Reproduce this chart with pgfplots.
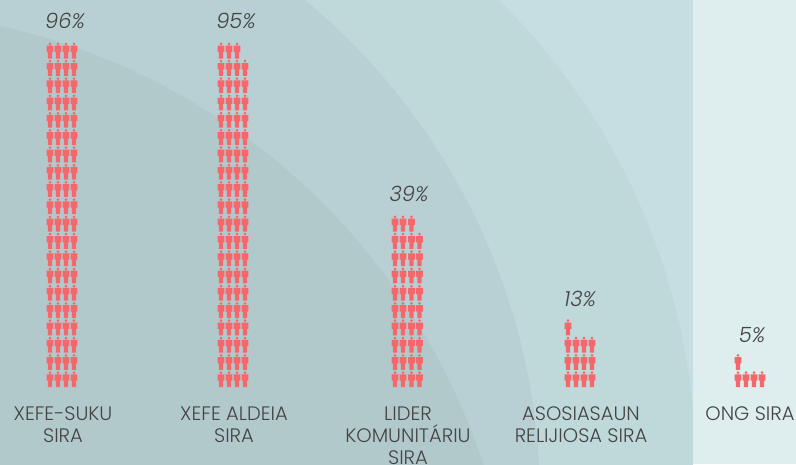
\documentclass[border=0pt]{standalone}
\usepackage{pgfplots}
\pgfplotsset{compat=1.18}
\usepackage{fontspec}
\setmainfont{Poppins}[UprightFont=* Light,ItalicFont=* Light Italic]
\definecolor{panel}{HTML}{DEEDED}
\definecolor{zoneC}{HTML}{C6DDE1}
\definecolor{zoneB}{HTML}{BFD8DA}
\definecolor{zoneA}{HTML}{B8D0D3}
\definecolor{zoneD}{HTML}{B2C9CC}
\definecolor{person}{HTML}{F4686C}
\definecolor{txt}{HTML}{444444}
\pgfdeclareplotmark{person}{%
  \pgfpathcircle{\pgfpoint{0pt}{6.6pt}}{1.5pt}%
  \pgfpathmoveto{\pgfpoint{-3.3pt}{4.8pt}}%
  \pgfpathlineto{\pgfpoint{3.3pt}{4.8pt}}%
  \pgfpathlineto{\pgfpoint{3.3pt}{-1.5pt}}%
  \pgfpathlineto{\pgfpoint{2.2pt}{-1.5pt}}%
  \pgfpathlineto{\pgfpoint{2.2pt}{-8pt}}%
  \pgfpathlineto{\pgfpoint{-2.2pt}{-8pt}}%
  \pgfpathlineto{\pgfpoint{-2.2pt}{-1.5pt}}%
  \pgfpathlineto{\pgfpoint{-3.3pt}{-1.5pt}}%
  \pgfpathclose
  \pgfusepathqfill}
\pgfplotsset{base/.style={width=796pt,height=464pt,scale only axis,hide axis,
  xmin=0,xmax=796,enlargelimits=false,clip=false}}
\begin{document}
\begin{tikzpicture}
\clip (0,0) rectangle (796pt,464pt);
% background in pixel coordinates, y measured from the bottom
\begin{axis}[base,ymin=0,ymax=464]
\fill[panel] (axis cs:0,0) rectangle (axis cs:796,464);
\fill[zoneC] (axis cs:0,0) rectangle (axis cs:693,464);
\begin{scope}
\clip (axis cs:0,0) rectangle (axis cs:693,464);
\fill[zoneB] (axis cs:31.4,-8.2) circle [radius=664.5pt];
\fill[zoneA] (axis cs:-110.6,-36.6) circle [radius=650.6pt];
\fill[zoneD] (axis cs:-142.5,-204.5) circle [radius=658pt];
\end{scope}
\end{axis}
% icons: x in pixels, y = row of the pictogram
\begin{axis}[base,ymin=-3.90,ymax=22.92]
\addplot[only marks,mark=person,color=person] coordinates {
(50,1)(58,1)(66,1)(74,1)(50,2)(58,2)(66,2)(74,2)(50,3)(58,3)(66,3)(74,3)(50,4)(58,4)(66,4)(74,4)
(50,5)(58,5)(66,5)(74,5)(50,6)(58,6)(66,6)(74,6)(50,7)(58,7)(66,7)(74,7)(50,8)(58,8)(66,8)(74,8)
(50,9)(58,9)(66,9)(74,9)(50,10)(58,10)(66,10)(74,10)(50,11)(58,11)(66,11)(74,11)(50,12)(58,12)(66,12)(74,12)
(50,13)(58,13)(66,13)(74,13)(50,14)(58,14)(66,14)(74,14)(50,15)(58,15)(66,15)(74,15)(50,16)(58,16)(66,16)(74,16)
(50,17)(58,17)(66,17)(74,17)(50,18)(58,18)(66,18)(74,18)(50,19)(58,19)(66,19)(74,19)(50,20)(58,20)(66,20)(74,20)
};
\addplot[only marks,mark=person,color=person] coordinates {
(221,1)(229,1)(237,1)(245,1)(221,2)(229,2)(237,2)(245,2)(221,3)(229,3)(237,3)(245,3)(221,4)(229,4)(237,4)(245,4)
(221,5)(229,5)(237,5)(245,5)(221,6)(229,6)(237,6)(245,6)(221,7)(229,7)(237,7)(245,7)(221,8)(229,8)(237,8)(245,8)
(221,9)(229,9)(237,9)(245,9)(221,10)(229,10)(237,10)(245,10)(221,11)(229,11)(237,11)(245,11)(221,12)(229,12)(237,12)(245,12)
(221,13)(229,13)(237,13)(245,13)(221,14)(229,14)(237,14)(245,14)(221,15)(229,15)(237,15)(245,15)(221,16)(229,16)(237,16)(245,16)
(221,17)(229,17)(237,17)(245,17)(221,18)(229,18)(237,18)(245,18)(221,19)(229,19)(237,19)(245,19)(221,20)(229,20)(237,20)
};
\addplot[only marks,mark=person,color=person] coordinates {
(395,1)(403,1)(411.5,1)(419.5,1)(395,2)(403,2)(411.5,2)(419.5,2)(395,3)(403,3)(411.5,3)(419.5,3)
(395,4)(403,4)(411.5,4)(419.5,4)(395,5)(403,5)(411.5,5)(419.5,5)(395,6)(403,6)(411.5,6)(419.5,6)
(395,7)(403,7)(411.5,7)(419.5,7)(395,8)(403,8)(411.5,8)(419.5,8)(395,9)(403,9)(411.5,9)(419.5,9)
(395,10)(403,10)(411.5,10)
};
\addplot[only marks,mark=person,color=person] coordinates {
(568,1)(576,1)(584,1)(592,1)(568,2)(576,2)(584,2)(592,2)(568,3)(576,3)(584,3)(592,3)(568,4)
};
\addplot[only marks,mark=person,color=person] coordinates {
(738,1)(746,1)(754,1)(762,1)(738,2)
};
\end{axis}
% text in pixel coordinates
\begin{axis}[base,ymin=0,ymax=464]
\tikzset{pct/.style={text=txt,font=\fontsize{21}{24}\selectfont\itshape,anchor=center},
  lab/.style={text=txt,font=\fontsize{19.5}{22}\selectfont,align=center,anchor=north,inner sep=0pt}}
\node[pct] at (axis cs:65,443) {96\%};
\node[pct] at (axis cs:236,443) {95\%};
\node[pct] at (axis cs:409,270) {39\%};
\node[pct] at (axis cs:580,165) {13\%};
\node[pct] at (axis cs:752,129) {5\%};
\node[lab] at (axis cs:63,57) {XEFE-SUKU\\SIRA};
\node[lab] at (axis cs:234,57) {XEFE ALDEIA\\SIRA};
\node[lab] at (axis cs:408,57) {LIDER\\KOMUNITÁRIU\\SIRA};
\node[lab] at (axis cs:581,57) {ASOSIASAUN\\RELIJIOSA SIRA};
\node[lab] at (axis cs:750,57) {ONG SIRA};
\end{axis}
\end{tikzpicture}
\end{document}
